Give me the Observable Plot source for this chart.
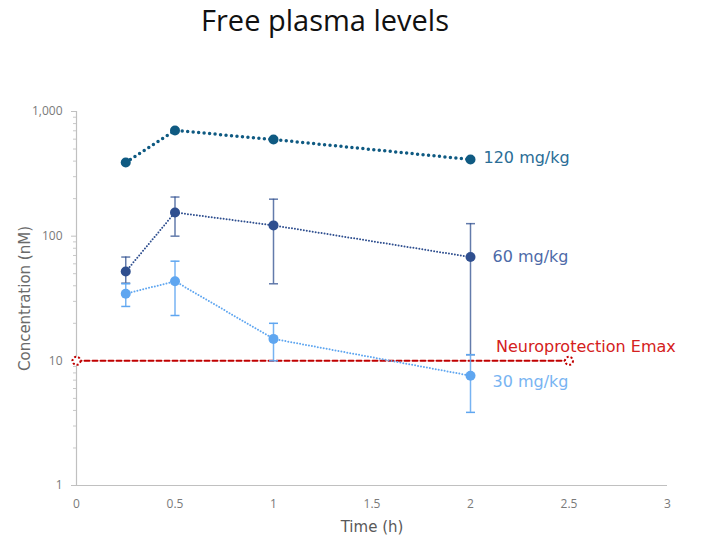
<!DOCTYPE html>
<html><head><meta charset="utf-8">
<script src="https://cdn.jsdelivr.net/npm/d3@7"></script>
<script src="https://cdn.jsdelivr.net/npm/@observablehq/plot@0.6"></script>
<style>
body{margin:0;background:#fff;font-family:"Open Sans",sans-serif;}
#title{height:50px;position:relative;}
#title div{position:absolute;left:0;width:650px;top:4px;line-height:1.1;text-align:center;font-size:29px;color:#111;}
</style></head><body>
<div id="title"><div>Free plasma levels</div></div>
<div id="chart"></div>
<script>
const times = [0.25, 0.5, 1, 2];
const conc120 = [390, 705, 596, 412];
const conc60 = [52, 155, 122, 68];
const err60Low = [42, 100, 41.5, 11.2];
const err60High = [68, 206, 198, 126];
const conc30 = [34.5, 43.5, 15, 7.6];
const err30Low = [27.3, 23.1, 10, 3.86];
const err30High = [41.5, 63, 20, 11.2];
const seriesNames = ["120 mg/kg", "60 mg/kg", "30 mg/kg"];
const emaxName = "Neuroprotection Emax";
const emaxLevel = 10;
const emaxTimes = [0, 2.5];
const xTicks = [0, 0.5, 1, 1.5, 2, 2.5, 3];
const yTicks = [1, 10, 100, 1000];
const yMinor = [2,3,4,5,6,7,8,9,20,30,40,50,60,70,80,90,200,300,400,500,600,700,800,900];

const rows = times.map((t, i) => ({t, c120: conc120[i], c60: conc60[i], lo60: err60Low[i], hi60: err60High[i], c30: conc30[i], lo30: err30Low[i], hi30: err30High[i]}));
const emaxRows = emaxTimes.map(t => ({t, v: emaxLevel}));
const last = rows[rows.length - 1];

const col120 = "#0f5a82", col60 = "#2f4f8f", col30 = "#5fa6f0", colRed = "#c00000";
const labelFont = "DejaVu Sans, sans-serif";
const capSymbol = {draw(ctx, size) { const w = 4.5; ctx.moveTo(-w, 0); ctx.lineTo(w, 0); }};

const chart = Plot.plot({
  width: 701, height: 489,
  marginTop: 61, marginLeft: 76, marginRight: 34, marginBottom: 54,
  x: {domain: [0, 3]},
  y: {type: "log", domain: [1, 1000]},
  style: {fontFamily: "Open Sans, sans-serif", fontSize: "12px", color: "#7a7a7a", background: "transparent"},
  marks: [
    Plot.ruleX([0], {stroke: "#c0c0c0", strokeWidth: 1.2}),
    Plot.ruleY([1], {stroke: "#c0c0c0", strokeWidth: 1.2}),
    Plot.axisY(yTicks, {tickSize: 5, tickPadding: 9, tickFormat: d3.format(","), label: null, stroke: "#c0c0c0", fill: "#7a7a7a"}),
    Plot.axisY(yMinor, {tickSize: 3, tickFormat: () => "", label: null, stroke: "#c8c8c8"}),
    Plot.axisX(xTicks, {tickSize: 0, tickPadding: 14, tickFormat: d => String(d), label: null, fill: "#7a7a7a"}),
    Plot.text(["Concentration (nM)"], {frameAnchor: "left", textAnchor: "middle", rotate: -90, dx: -51, fontSize: 15, fontFamily: labelFont, fill: "#6a6a6a"}),
    Plot.text(["Time (h)"], {frameAnchor: "bottom", textAnchor: "middle", dy: 46, fontSize: 15, fontFamily: labelFont, fill: "#595959"}),
    // Emax
    Plot.line(emaxRows, {x: "t", y: "v", stroke: colRed, strokeWidth: 2, strokeDasharray: "5,3"}),
    Plot.dot(emaxRows, {x: "t", y: "v", r: 4, fill: "white", stroke: colRed, strokeWidth: 2, strokeDasharray: "2,2"}),
    // error bars
    Plot.ruleX(rows, {x: "t", y1: "lo60", y2: "hi60", stroke: col60, strokeOpacity: 0.75, strokeWidth: 1.5}),
    Plot.dot(rows, {x: "t", y: "lo60", symbol: capSymbol, stroke: col60, fill: "none", strokeOpacity: 0.75, strokeWidth: 1.5}),
    Plot.dot(rows, {x: "t", y: "hi60", symbol: capSymbol, stroke: col60, fill: "none", strokeOpacity: 0.75, strokeWidth: 1.5}),
    Plot.ruleX(rows, {x: "t", y1: "lo30", y2: "hi30", stroke: col30, strokeOpacity: 0.85, strokeWidth: 1.5}),
    Plot.dot(rows, {x: "t", y: "lo30", symbol: capSymbol, stroke: col30, fill: "none", strokeWidth: 1.5}),
    Plot.dot(rows, {x: "t", y: "hi30", symbol: capSymbol, stroke: col30, fill: "none", strokeWidth: 1.5}),
    // lines
    Plot.line(rows, {x: "t", y: "c120", stroke: col120, strokeWidth: 3.5, strokeDasharray: "0 5.5", strokeLinecap: "round"}),
    Plot.line(rows, {x: "t", y: "c60", stroke: col60, strokeWidth: 2, strokeDasharray: "0 3", strokeLinecap: "round"}),
    Plot.line(rows, {x: "t", y: "c30", stroke: col30, strokeWidth: 2, strokeDasharray: "0 3", strokeLinecap: "round"}),
    Plot.dot(rows, {x: "t", y: "c120", r: 5, fill: col120}),
    Plot.dot(rows, {x: "t", y: "c60", r: 5, fill: col60}),
    Plot.dot(rows, {x: "t", y: "c30", r: 5, fill: col30}),
    // labels
    Plot.text([last], {x: "t", y: "c120", text: () => seriesNames[0], dx: 13, dy: -2, textAnchor: "start", fill: "#2a6d96", fontSize: 16, fontFamily: labelFont}),
    Plot.text([last], {x: "t", y: "c60", text: () => seriesNames[1], dx: 22, textAnchor: "start", fill: "#4d6aa8", fontSize: 16, fontFamily: labelFont}),
    Plot.text([last], {x: "t", y: "c30", text: () => seriesNames[2], dx: 22, dy: 6, textAnchor: "start", fill: "#78b4f2", fontSize: 16, fontFamily: labelFont}),
    Plot.text([emaxRows[emaxRows.length - 1]], {x: "t", y: "v", text: () => emaxName, dx: -73, dy: -14, textAnchor: "start", fill: "#d42020", fontSize: 16, fontFamily: labelFont})
  ]
});
document.getElementById("chart").appendChild(chart);
</script>
</body></html>
